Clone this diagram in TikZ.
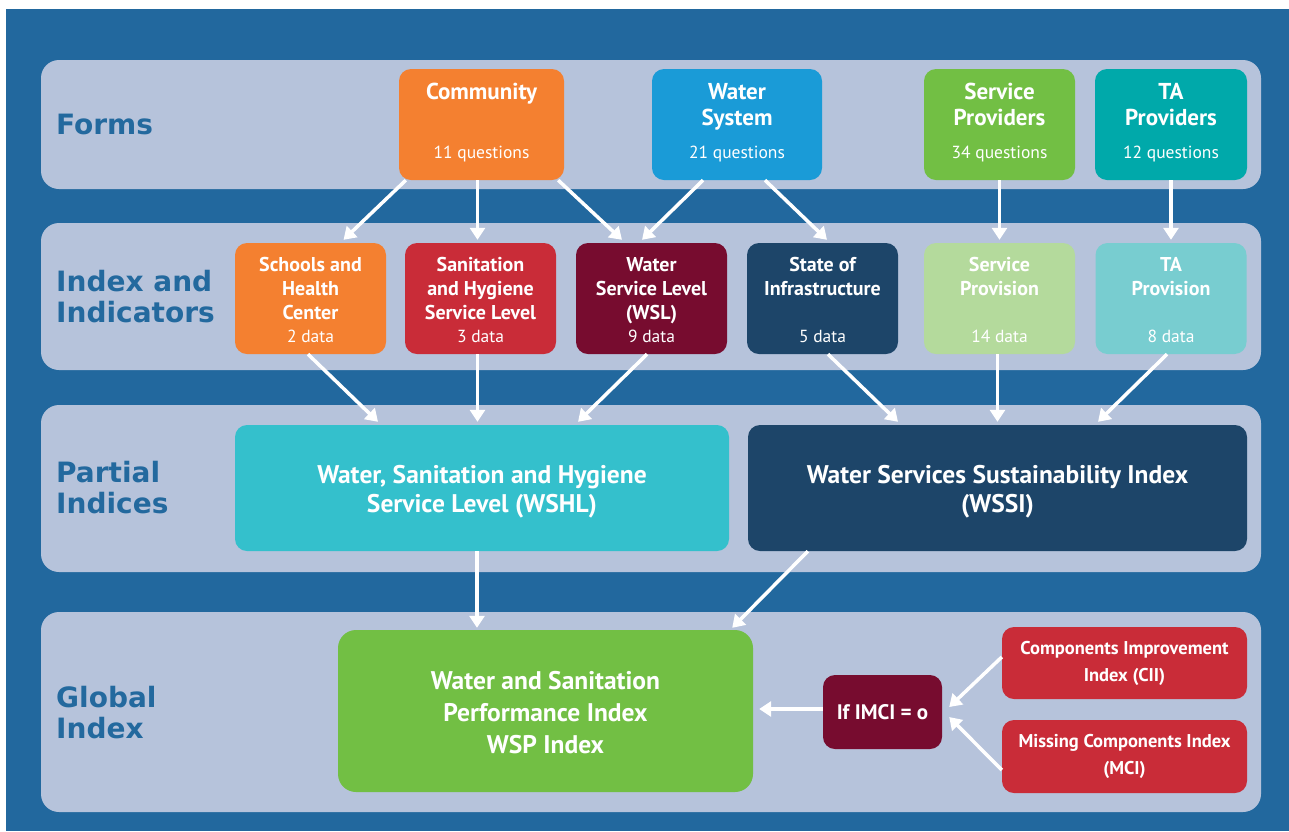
\documentclass[tikz,border=0pt]{standalone}
\usepackage{fontspec}
\setmainfont{PT Sans}
\newfontfamily\bandfont{DejaVu Sans}
\usetikzlibrary{arrows.meta,positioning}

\definecolor{bgblue}{HTML}{22689E}
\definecolor{bandgray}{HTML}{B6C3DB}
\definecolor{labelblue}{HTML}{23699E}
\definecolor{forange}{HTML}{F48030}
\definecolor{fcyan}{HTML}{1A9BD7}
\definecolor{fgreen}{HTML}{72BF44}
\definecolor{fteal}{HTML}{00A9AA}
\definecolor{ired}{HTML}{C92C38}
\definecolor{imaroon}{HTML}{770C2F}
\definecolor{inavy}{HTML}{1D4569}
\definecolor{ilightgreen}{HTML}{B4DA9C}
\definecolor{ilightteal}{HTML}{78CDD0}
\definecolor{pcyan}{HTML}{34C0CC}

\begin{document}
\begin{tikzpicture}[x=1pt, y=-1pt,
  rowlabel/.style={anchor=west, align=left, inner sep=0pt, text=labelblue,
    font=\bandfont\fontsize{28}{31}\selectfont\bfseries},
  box/.style={rounded corners=12pt, inner sep=0pt, text=white, align=center},
  boxtext/.style={inner sep=0pt, text=white, align=center},
  formbox/.style={box, minimum height=111pt},
  databox/.style={box, minimum width=151pt, minimum height=111pt},
  formtitle/.style={anchor=north, align=center, inner sep=0pt, text=white,
    font=\fontsize{23}{26}\selectfont\bfseries},
  datatitle/.style={anchor=north, align=center, inner sep=0pt, text=white,
    font=\fontsize{20}{24}\selectfont\bfseries},
  count/.style={anchor=base, inner sep=0pt, text=white,
    font=\fontsize{17.5}{20}\selectfont},
  flow/.style={draw=white, line width=3.5pt, -{Triangle[width=15pt,length=12pt]}}]

\useasboundingbox (0,0) rectangle (1289,831);
\fill[bgblue] (6,9) rectangle (1289,831);

% the four bands
\fill[bandgray, rounded corners=18pt] (41,60) rectangle (1261,189);
\fill[bandgray, rounded corners=18pt] (41,223) rectangle (1261,370);
\fill[bandgray, rounded corners=18pt] (41,405) rectangle (1261,572);
\fill[bandgray, rounded corners=18pt] (41,612) rectangle (1261,812);

\node[rowlabel] (forms) at (56,124) {Forms};
\node[rowlabel] (indic) at (56,297) {Index and\\Indicators};
\node[rowlabel] (partial) at (56,488) {Partial\\Indices};
\node[rowlabel] (global) at (56,713) {Global\\Index};

% forms
\node[formbox, fill=forange, minimum width=165pt] (comm) at (481.5,124.5) {};
\node[formbox, fill=fcyan, minimum width=170pt] (wsys) at (737,124.5) {};
\node[formbox, fill=fgreen, minimum width=151pt] (sprov) at (999.5,124.5) {};
\node[formbox, fill=fteal, minimum width=152pt] (taprov) at (1171,124.5) {};

\node[formtitle] (comm-t) at ([yshift=-14pt]comm.north) {Community};
\node[formtitle] (wsys-t) at ([yshift=-14pt]wsys.north) {Water\\System};
\node[formtitle] (sprov-t) at ([yshift=-14pt]sprov.north) {Service\\Providers};
\node[formtitle] (taprov-t) at ([yshift=-14pt]taprov.north) {TA\\Providers};
\node[count] (comm-n) at ([yshift=22pt]comm.south) {11 questions};
\node[count] (wsys-n) at ([yshift=22pt]wsys.south) {21 questions};
\node[count] (sprov-n) at ([yshift=22pt]sprov.south) {34 questions};
\node[count] (taprov-n) at ([yshift=22pt]taprov.south) {12 questions};

% index and indicators
\node[databox, fill=forange] (shc) at (310.5,298.5) {};
\node[databox, fill=ired] (shsl) at (480.5,298.5) {};
\node[databox, fill=imaroon] (wsl) at (651.5,298.5) {};
\node[databox, fill=inavy] (soi) at (822.5,298.5) {};
\node[databox, fill=ilightgreen] (spv) at (999.5,298.5) {};
\node[databox, fill=ilightteal] (tap) at (1171,298.5) {};

\node[datatitle] (shc-t) at ([yshift=-14pt]shc.north) {Schools and\\Health\\Center};
\node[datatitle] (shsl-t) at ([yshift=-14pt]shsl.north) {Sanitation\\and Hygiene\\Service Level};
\node[datatitle] (wsl-t) at ([yshift=-14pt]wsl.north) {Water\\Service Level\\(WSL)};
\node[datatitle] (soi-t) at ([yshift=-14pt]soi.north) {State of\\Infrastructure};
\node[datatitle] (spv-t) at ([yshift=-14pt]spv.north) {Service\\Provision};
\node[datatitle] (tap-t) at ([yshift=-14pt]tap.north) {TA\\Provision};
\node[count] (shc-n) at ([yshift=12pt]shc.south) {2 data};
\node[count] (shsl-n) at ([yshift=12pt]shsl.south) {3 data};
\node[count] (wsl-n) at ([yshift=12pt]wsl.south) {9 data};
\node[count] (soi-n) at ([yshift=12pt]soi.south) {5 data};
\node[count] (spv-n) at ([yshift=12pt]spv.south) {14 data};
\node[count] (tap-n) at ([yshift=12pt]tap.south) {8 data};

% partial indices
\node[box, fill=pcyan, minimum width=494pt, minimum height=126pt] (wshl) at (482,488) {};
\node[box, fill=inavy, minimum width=499pt, minimum height=126pt] (wssi) at (997.5,488) {};
\node[boxtext, font=\fontsize{25.5}{29}\selectfont\bfseries] (wshl-t)
  at ([yshift=-4pt]wshl.center) {Water, Sanitation and Hygiene\\Service Level (WSHL)};
\node[boxtext, font=\fontsize{25.5}{29}\selectfont\bfseries] (wssi-t)
  at ([yshift=-4pt]wssi.center) {Water Services Sustainability Index\\(WSSI)};

% global index
\node[box, rounded corners=18pt, fill=fgreen, minimum width=415pt, minimum height=162pt] (wsp)
  at (545.5,711) {};
\node[boxtext, font=\fontsize{25.5}{32}\selectfont\bfseries] (wsp-t)
  at ([yshift=-2pt]wsp.center) {Water and Sanitation\\Performance Index\\WSP Index};
\node[box, fill=imaroon, minimum width=119pt, minimum height=74pt,
  font=\fontsize{21}{25}\selectfont\bfseries] (imci) at (882.5,712) {If IMCI = o};
\node[box, fill=ired, minimum width=245pt, minimum height=72pt,
  font=\fontsize{18.5}{27}\selectfont\bfseries] (cii) at (1124.5,663)
  {Components Improvement\\Index (CII)};
\node[box, fill=ired, minimum width=245pt, minimum height=73pt,
  font=\fontsize{18.5}{27}\selectfont\bfseries] (mci) at (1124.5,756.5)
  {Missing Components Index\\(MCI)};

% forms -> indicators
\draw[flow] ([xshift=7pt]comm.south west) -- ([xshift=33pt,yshift=3pt]shc.north);
\draw[flow] ([xshift=-3pt]comm.south -| shsl.north) -- ([xshift=-3pt,yshift=3pt]shsl.north);
\draw[flow] ([xshift=-6pt]comm.south east) -- ([xshift=-29.5pt,yshift=3pt]wsl.north);
\draw[flow] ([xshift=-34pt]wsys.south) -- ([xshift=-9.5pt,yshift=3pt]wsl.north);
\draw[flow] ([xshift=28pt]wsys.south) -- ([xshift=4.5pt,yshift=3pt]soi.north);
\draw[flow] (sprov.south) -- ([yshift=3pt]spv.north);
\draw[flow] (taprov.south) -- ([yshift=3pt]tap.north);

% indicators -> partial indices
\draw[flow] ([xshift=-2.5pt]shc.south) -- ([xshift=-104pt,yshift=3pt]wshl.north);
\draw[flow] ([xshift=-3pt]shsl.south) -- ([xshift=-3pt,yshift=3pt]wshl.north -| shsl.south);
\draw[flow] ([xshift=-4.5pt]wsl.south) -- ([xshift=96pt,yshift=3pt]wshl.north);
\draw[flow] ([xshift=5.5pt]soi.south) -- ([xshift=-99.5pt,yshift=3pt]wssi.north);
\draw[flow] ([xshift=-2pt]spv.south) -- ([xshift=-2pt,yshift=3pt]wssi.north -| spv.south);
\draw[flow] ([xshift=-4pt]tap.south) -- ([xshift=100.5pt,yshift=3pt]wssi.north);

% partial -> global
\draw[flow] ([xshift=-5pt]wshl.south) -- ([xshift=-5pt,yshift=2pt]wsp.north -| wshl.south);
\draw[flow] ([xshift=60pt]wssi.south west) -- ([xshift=-21pt,yshift=2pt]wsp.north east);
\draw[flow] ([yshift=3pt]imci.west) -- ([xshift=6pt,yshift=3pt]imci.west -| wsp.east);
\draw[flow] ([yshift=6pt]cii.west) -- ([xshift=7pt,yshift=5pt]imci.east);
\draw[flow] ([yshift=-13.5pt]mci.west) -- ([xshift=7pt,yshift=-5pt]imci.east);
\end{tikzpicture}
\end{document}
